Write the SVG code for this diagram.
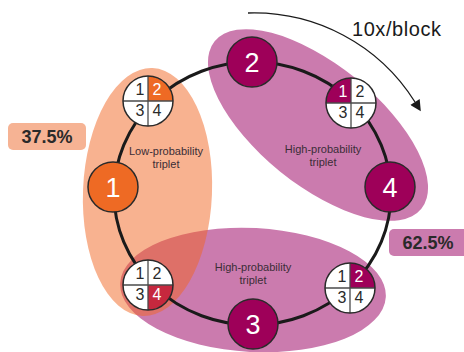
<svg xmlns="http://www.w3.org/2000/svg" width="464" height="352" viewBox="0 0 464 352">
  <defs>
    <style>
      .ring { fill: none; stroke: #1a1a1a; stroke-width: 3; }
      .node { stroke: #2a2a2a; stroke-width: 1.5; }
      .mag { fill: #9e0059; }
      .org { fill: #ee6a24; }
      .big { font-family: "Liberation Sans", Arial, sans-serif; font-size: 27px; fill: #ffffff; text-anchor: middle; }
      .quad-bg { fill: #ffffff; }
      .quad-edge { fill: none; stroke: #2a2a2a; stroke-width: 1.5; }
      .quad-cross { stroke: #4a4a4a; stroke-width: 1.3; }
      .qd { font-family: "Liberation Sans", Arial, sans-serif; font-size: 16px; fill: #2a2a2a; text-anchor: middle; }
      .qd-w { fill: #ffffff; }
      .lbl { font-family: "Liberation Sans", Arial, sans-serif; font-size: 11px; fill: #3a2d36; text-anchor: middle; }
      .pct { font-family: "Liberation Sans", Arial, sans-serif; font-size: 18px; font-weight: bold; fill: #2a2a2a; text-anchor: middle; }
      .zone-mag { fill: #cb7bae; }
    </style>
    <marker id="head" viewBox="0 0 12 12" refX="0" refY="6" markerWidth="12" markerHeight="11" markerUnits="userSpaceOnUse" orient="auto">
      <path d="M0,0 L12,6 L0,12 Z" fill="#1a1a1a"/>
    </marker>
  </defs>

  <!-- triplet zones -->
  <g id="zones">
    <ellipse class="zone-mag" cx="318" cy="125" rx="133" ry="60" transform="rotate(39 318 125)"/>
    <ellipse class="zone-mag" cx="253" cy="290" rx="133" ry="62" transform="rotate(3 253 290)"/>
    <ellipse cx="147.5" cy="192" rx="64.5" ry="124" fill="#f26522" fill-opacity="0.5" transform="rotate(2.3 147.5 192)"/>
  </g>

  <!-- sequence ring and direction arrow -->
  <g id="connectors">
    <ellipse class="ring" cx="252.5" cy="193.5" rx="138.5" ry="131.5"/>
    <path d="M248,13 A190,190 0 0 1 415,102" fill="none" stroke="#1a1a1a" stroke-width="1.3" marker-end="url(#head)"/>
  </g>

  <!-- zone labels -->
  <g id="zone-labels">
    <text class="lbl" x="166" y="155">Low-probability</text>
    <text class="lbl" x="166" y="168">triplet</text>
    <text class="lbl" x="323" y="153">High-probability</text>
    <text class="lbl" x="323" y="166">triplet</text>
    <text class="lbl" x="253" y="271">High-probability</text>
    <text class="lbl" x="253" y="284">triplet</text>
  </g>

  <!-- stimulus nodes -->
  <g id="node-2">
    <circle class="node mag" cx="252" cy="62" r="25"/>
    <text class="big" x="252" y="72">2</text>
  </g>
  <g id="node-4">
    <circle class="node mag" cx="390" cy="187" r="25"/>
    <text class="big" x="390" y="197">4</text>
  </g>
  <g id="node-3">
    <circle class="node mag" cx="253" cy="324" r="25"/>
    <text class="big" x="253" y="334">3</text>
  </g>
  <g id="node-1">
    <circle class="node org" cx="113" cy="187" r="25"/>
    <text class="big" x="113" y="197">1</text>
  </g>

  <!-- response-key quads -->
  <g id="quad-top-left" transform="translate(148 101)">
    <circle class="quad-bg" r="25"/>
    <path d="M0,0 L0,-25 A25,25 0 0 1 25,0 Z" fill="#ee6a24"/>
    <line class="quad-cross" x1="-25" y1="0" x2="25" y2="0"/>
    <line class="quad-cross" x1="0" y1="-25" x2="0" y2="25"/>
    <circle class="quad-edge" r="25"/>
    <text class="qd" x="-8" y="-6">1</text>
    <text class="qd qd-w" x="9" y="-6">2</text>
    <text class="qd" x="-8" y="15">3</text>
    <text class="qd" x="9" y="15">4</text>
  </g>
  <g id="quad-top-right" transform="translate(351 103)">
    <circle class="quad-bg" r="25"/>
    <path d="M0,0 L-25,0 A25,25 0 0 1 0,-25 Z" fill="#9e0059"/>
    <line class="quad-cross" x1="-25" y1="0" x2="25" y2="0"/>
    <line class="quad-cross" x1="0" y1="-25" x2="0" y2="25"/>
    <circle class="quad-edge" r="25"/>
    <text class="qd qd-w" x="-8" y="-6">1</text>
    <text class="qd" x="9" y="-6">2</text>
    <text class="qd" x="-8" y="15">3</text>
    <text class="qd" x="9" y="15">4</text>
  </g>
  <g id="quad-bottom-right" transform="translate(350 288)">
    <circle class="quad-bg" r="25"/>
    <path d="M0,0 L0,-25 A25,25 0 0 1 25,0 Z" fill="#9e0059"/>
    <line class="quad-cross" x1="-25" y1="0" x2="25" y2="0"/>
    <line class="quad-cross" x1="0" y1="-25" x2="0" y2="25"/>
    <circle class="quad-edge" r="25"/>
    <text class="qd" x="-8" y="-6">1</text>
    <text class="qd qd-w" x="9" y="-6">2</text>
    <text class="qd" x="-8" y="15">3</text>
    <text class="qd" x="9" y="15">4</text>
  </g>
  <g id="quad-bottom-left" transform="translate(148 285)">
    <circle class="quad-bg" r="25"/>
    <path d="M0,0 L25,0 A25,25 0 0 1 0,25 Z" fill="#c6283e"/>
    <line class="quad-cross" x1="-25" y1="0" x2="25" y2="0"/>
    <line class="quad-cross" x1="0" y1="-25" x2="0" y2="25"/>
    <circle class="quad-edge" r="25"/>
    <text class="qd" x="-8" y="-6">1</text>
    <text class="qd" x="9" y="-6">2</text>
    <text class="qd" x="-8" y="15">3</text>
    <text class="qd qd-w" x="9" y="15">4</text>
  </g>

  <!-- rate and proportion labels -->
  <g id="rate">
    <text x="352" y="36" font-family="Liberation Sans, Arial, sans-serif" font-size="20" fill="#1a1a1a" textLength="89">10x/block</text>
  </g>
  <g id="pct-low">
    <rect x="8" y="123" width="78" height="27" rx="5" fill="#f6b394"/>
    <text class="pct" x="47" y="143">37.5%</text>
  </g>
  <g id="pct-high">
    <rect x="389" y="229" width="82" height="27" rx="5" fill="#cb7bae"/>
    <text class="pct" x="428" y="249">62.5%</text>
  </g>
</svg>
